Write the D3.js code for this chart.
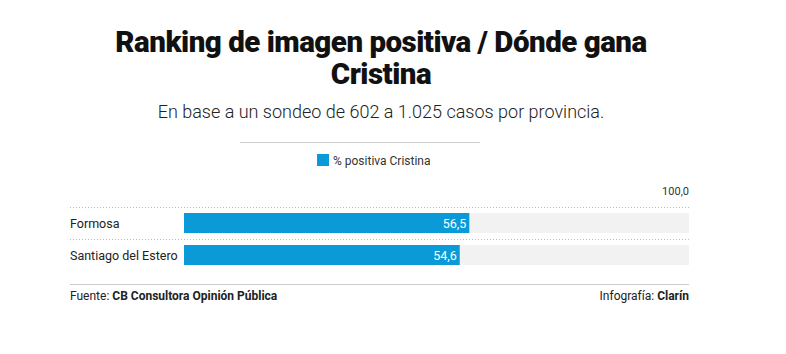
<!DOCTYPE html>
<html>
<head>
<meta charset="utf-8">
<script src="https://cdn.jsdelivr.net/npm/d3@7"></script>
<style>
  body { margin: 0; background: #fff; }
  svg text { font-family: Roboto, "Noto Sans", sans-serif; }
</style>
</head>
<body>
<svg id="chart" width="786" height="354"></svg>
<script>
var provinces = ["Formosa", "Santiago del Estero"];
var positiva = [56.5, 54.6];
var maxValue = 100;
var seriesName = "% positiva Cristina";

var svg = d3.select("#chart");
var blue = "#0a9ad7";
var fmt = function (v) { return d3.format(".1f")(v).replace(".", ","); };

// title block
var title = svg.append("text")
  .attr("x", 381)
  .attr("text-anchor", "middle")
  .style("font-weight", "900")
  .style("font-size", "29.5px")
  .style("letter-spacing", "-0.5px")
  .style("fill", "#111");
title.append("tspan").attr("x", 381).attr("y", 52).text("Ranking de imagen positiva / Dónde gana");
title.append("tspan").attr("x", 381).attr("y", 84).text("Cristina");

svg.append("text")
  .attr("x", 381).attr("y", 118)
  .attr("text-anchor", "middle")
  .style("font-size", "18px")
  .style("font-weight", "300")
  .style("fill", "#222")
  .text("En base a un sondeo de 602 a 1.025 casos por provincia.");

svg.append("line")
  .attr("x1", 240).attr("x2", 480)
  .attr("y1", 142.5).attr("y2", 142.5)
  .style("stroke", "#ccc");

// legend
svg.append("rect")
  .attr("x", 317).attr("y", 154)
  .attr("width", 12).attr("height", 12)
  .style("fill", blue);
svg.append("text")
  .attr("x", 333).attr("y", 165)
  .style("font-size", "12px")
  .style("fill", "#333")
  .text(seriesName);

// scales
var x = d3.scaleLinear().domain([0, maxValue]).range([184, 689]);
var y = d3.scaleBand().domain(provinces).range([207, 271]).paddingInner(0.375).paddingOuter(0.1875);

svg.append("text")
  .attr("x", x(maxValue)).attr("y", 195)
  .attr("text-anchor", "end")
  .style("font-size", "11px")
  .style("fill", "#333")
  .text(fmt(maxValue));

var rows = svg.selectAll("g.row")
  .data(provinces)
  .enter()
  .append("g")
  .attr("class", "row");

rows.append("line")
  .attr("x1", 70).attr("x2", 689)
  .attr("y1", function (d) { return y(d) - 5.5; })
  .attr("y2", function (d) { return y(d) - 5.5; })
  .style("stroke", "#bbb")
  .style("stroke-dasharray", "1,2");

rows.append("rect")
  .attr("x", x(0))
  .attr("y", function (d) { return y(d); })
  .attr("width", x(maxValue) - x(0))
  .attr("height", y.bandwidth())
  .style("fill", "#f2f2f2");

rows.append("rect")
  .attr("x", x(0))
  .attr("y", function (d) { return y(d); })
  .attr("width", function (d, i) { return x(positiva[i]) - x(0); })
  .attr("height", y.bandwidth())
  .style("fill", blue);

rows.append("text")
  .attr("x", 70)
  .attr("y", function (d) { return y(d) + y.bandwidth() / 2 + 4.5; })
  .style("font-size", "12.5px")
  .style("fill", "#222")
  .text(function (d) { return d; });

rows.append("text")
  .attr("x", function (d, i) { return x(positiva[i]) - 3; })
  .attr("y", function (d) { return y(d) + y.bandwidth() / 2 + 4.5; })
  .attr("text-anchor", "end")
  .style("font-size", "12.5px")
  .style("fill", "#fff")
  .text(function (d, i) { return fmt(positiva[i]); });

// footer
svg.append("line")
  .attr("x1", 70).attr("x2", 689)
  .attr("y1", 284.5).attr("y2", 284.5)
  .style("stroke", "#ccc");

var src = svg.append("text")
  .attr("x", 70).attr("y", 300)
  .style("font-size", "12px")
  .style("fill", "#222");
src.append("tspan").text("Fuente: ");
src.append("tspan").style("font-weight", "bold").text("CB Consultora Opinión Pública");

var info = svg.append("text")
  .attr("x", 689).attr("y", 300)
  .attr("text-anchor", "end")
  .style("font-size", "12px")
  .style("fill", "#222");
info.append("tspan").text("Infografía: ");
info.append("tspan").style("font-weight", "bold").text("Clarín");
</script>
</body>
</html>
